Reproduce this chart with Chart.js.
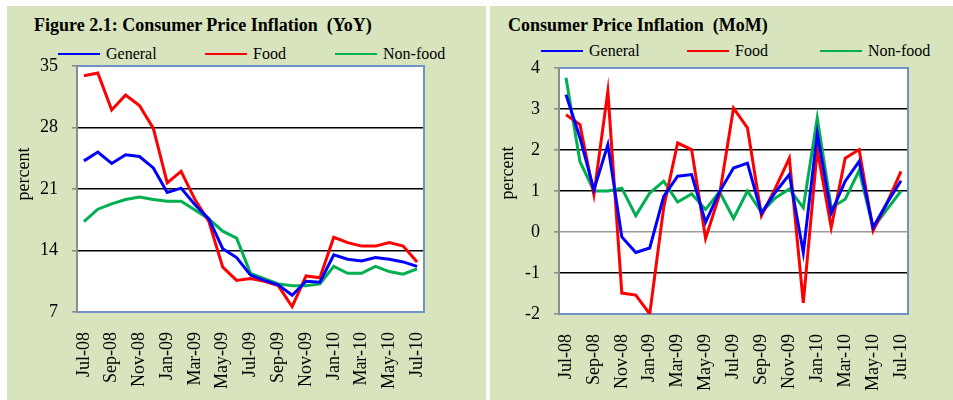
<!DOCTYPE html>
<html>
<head>
<meta charset="utf-8">
<script src="https://cdn.jsdelivr.net/npm/chart.js@4"></script>
<style>
    body { margin: 0; background: #fff; width: 953px; height: 400px; position: relative; overflow: hidden; }
    .panel { position: absolute; top: 6px; height: 394px; background: #d7e4bd; font-family: 'Liberation Serif', 'Times New Roman', serif; }
    .panel canvas { position: absolute; left: 0; top: 0; }
    .title { position: absolute; top: 9px; font-weight: bold; font-size: 18px; color: #000; white-space: nowrap; }
    .leg { position: absolute; font-size: 16px; color: #000; white-space: nowrap; }
    .leg span.line { display: inline-block; width: 42px; height: 2px; vertical-align: middle; margin-right: 6px; position: relative; top: -1px; }
</style>
</head>
<body>
<div class="panel" id="p1" style="left:7px;width:479px">
    <div class="title" style="left:27px">Figure 2.1: Consumer Price Inflation&nbsp; (YoY)</div>
    <div class="leg" style="left:51px;top:39px"><span class="line" style="background:#0000ff"></span>General</div>
    <div class="leg" style="left:198px;top:39px"><span class="line" style="background:#ff0000"></span>Food</div>
    <div class="leg" style="left:328px;top:39px"><span class="line" style="background:#00b050"></span>Non-food</div>
    <canvas id="c1" width="479" height="394"></canvas>
</div>
<div class="panel" id="p2" style="left:490px;width:463px">
    <div class="title" style="left:18px">Consumer Price Inflation&nbsp; (MoM)</div>
    <div class="leg" style="left:51px;top:36px"><span class="line" style="background:#0000ff"></span>General</div>
    <div class="leg" style="left:197px;top:36px"><span class="line" style="background:#ff0000"></span>Food</div>
    <div class="leg" style="left:330px;top:36px"><span class="line" style="background:#00b050"></span>Non-food</div>
    <canvas id="c2" width="463" height="394"></canvas>
</div>
<script>
// months Jul-08 .. Jul-10
const months = ['Jul-08', 'Aug-08', 'Sep-08', 'Oct-08', 'Nov-08', 'Dec-08', 'Jan-09', 'Feb-09', 'Mar-09',
    'Apr-09', 'May-09', 'Jun-09', 'Jul-09', 'Aug-09', 'Sep-09', 'Oct-09', 'Nov-09', 'Dec-09', 'Jan-10',
    'Feb-10', 'Mar-10', 'Apr-10', 'May-10', 'Jun-10', 'Jul-10']

// YoY
const yoyGeneral = [24.2, 25.2, 23.9, 24.9, 24.7, 23.4, 20.6, 21.1, 19.2, 17.6, 14.2, 13.2, 11.2,
    10.6, 10.1, 8.9, 10.5, 10.4, 13.5, 13.0, 12.8, 13.2, 13.0, 12.7, 12.2]
const yoyFood = [33.9, 34.2, 30.0, 31.7, 30.5, 27.9, 21.7, 23.0, 19.8, 17.3, 12.1, 10.6, 10.8,
    10.5, 10.0, 7.6, 11.1, 10.9, 15.5, 14.9, 14.5, 14.5, 14.9, 14.5, 12.7]
const yoyNonFood = [17.3, 18.7, 19.3, 19.8, 20.1, 19.8, 19.6, 19.6, 18.6, 17.6, 16.2, 15.4, 11.4,
    10.8, 10.2, 10.0, 10.0, 10.2, 12.2, 11.4, 11.4, 12.2, 11.6, 11.3, 11.9]
const yoyTicks = [7, 14, 21, 28, 35]

// MoM
const momGeneral = [3.35, 2.3, 1.03, 2.13, -0.12, -0.5, -0.39, 0.87, 1.36, 1.4, 0.24, 0.98, 1.56,
    1.68, 0.46, 0.97, 1.4, -0.5, 2.41, 0.46, 1.24, 1.72, 0.11, 0.71, 1.25]
const momFood = [2.86, 2.62, 0.91, 3.43, -1.49, -1.54, -2.0, 0.6, 2.17, 2.01, -0.16, 0.91, 3.02,
    2.54, 0.4, 1.07, 1.8, -1.73, 2.01, 0.11, 1.8, 2.01, 0.03, 0.71, 1.48]
const momNonFood = [3.76, 1.72, 1.0, 1.0, 1.07, 0.4, 0.95, 1.24, 0.73, 0.93, 0.55, 0.98, 0.33,
    1.0, 0.48, 0.83, 1.05, 0.59, 2.78, 0.59, 0.8, 1.5, 0.1, 0.55, 1.0]
const momTicks = [-2, -1, 0, 1, 2, 3, 4]

const serif = "'Liberation Serif', 'Times New Roman', serif"

const plotFrame = {
    id: 'plotFrame',
    beforeDraw(chart) {
        const a = chart.chartArea
        const ctx = chart.ctx
        ctx.save()
        ctx.fillStyle = '#fff'
        ctx.fillRect(a.left, a.top, a.right - a.left, a.bottom - a.top)
        ctx.restore()
    },
    beforeDatasetsDraw(chart) {
        const a = chart.chartArea
        const ctx = chart.ctx
        ctx.save()
        ctx.strokeStyle = '#6f93c6'
        ctx.lineWidth = 2
        ctx.beginPath()
        ctx.moveTo(a.left, a.top)
        ctx.lineTo(a.right, a.top)
        ctx.lineTo(a.right, a.bottom)
        ctx.lineTo(a.left, a.bottom)
        ctx.stroke()
        ctx.strokeStyle = '#8c8c8c'
        ctx.beginPath()
        ctx.moveTo(a.left, a.top - 1)
        ctx.lineTo(a.left, a.bottom + 1)
        ctx.stroke()
        ctx.restore()
    },
    afterDraw(chart, args, opts) {
        // axis title, placed a bit above the middle like the original
        const ctx = chart.ctx
        ctx.save()
        ctx.translate(opts.x, opts.y)
        ctx.rotate(-Math.PI / 2)
        ctx.font = `18px ${serif}`
        ctx.fillStyle = '#000'
        ctx.textAlign = 'center'
        ctx.textBaseline = 'middle'
        ctx.fillText(opts.text, 0, 0)
        ctx.restore()
    },
}

const makeChart = (id, series, ticks, cfg) => {
    const mk = (label, data, color) => ({
        label,
        data,
        borderColor: color,
        backgroundColor: color,
        borderWidth: 3,
        pointRadius: 0,
        tension: 0,
    })
    return new Chart(document.getElementById(id), {
        type: 'line',
        data: {
            labels: months,
            datasets: [
                mk('General', series[0], '#0000ff'),
                mk('Food', series[1], '#ff0000'),
                mk('Non-food', series[2], '#00b050'),
            ],
        },
        options: {
            responsive: false,
            animation: false,
            layout: { padding: { top: cfg.top, right: cfg.right, left: 0, bottom: 0 } },
            plugins: {
                legend: { display: false },
                tooltip: { enabled: false },
                plotFrame: { text: 'percent', x: cfg.tx, y: cfg.ty },
            },
            scales: {
                x: {
                    offset: true,
                    afterFit: s => { s.height = cfg.xh },
                    grid: { drawOnChartArea: false, drawTicks: false, color: 'transparent' },
                    border: { display: false },
                    ticks: {
                        autoSkip: false,
                        minRotation: 90,
                        maxRotation: 90,
                        padding: 20,
                        color: '#000',
                        font: { family: serif, size: 18 },
                        callback: (v, i) => (i % 2 === 0 ? months[i] : ''),
                    },
                },
                y: {
                    min: ticks[0],
                    max: ticks[ticks.length - 1],
                    afterFit: s => { s.width = cfg.yw },
                    afterBuildTicks: s => { s.ticks = ticks.map(v => ({ value: v })) },
                    grid: {
                        color: c => {
                            const v = c.tick.value
                            if (v === ticks[0] || v === ticks[ticks.length - 1]) return 'transparent'
                            return v === 0 ? '#9a9a9a' : '#000'
                        },
                        lineWidth: 1.6,
                        tickColor: '#8c8c8c',
                        tickLength: 5,
                    },
                    border: { display: false },
                    ticks: {
                        padding: 14,
                        color: '#000',
                        font: { family: serif, size: 18 },
                    },
                },
            },
        },
        plugins: [plotFrame],
    })
}

makeChart('c1', [yoyGeneral, yoyFood, yoyNonFood], yoyTicks,
    { top: 60, right: 62, xh: 88, yw: 70, tx: 17, ty: 168 })
makeChart('c2', [momGeneral, momFood, momNonFood], momTicks,
    { top: 62, right: 45, xh: 86, yw: 69, tx: 18, ty: 167 })
</script>
</body>
</html>
